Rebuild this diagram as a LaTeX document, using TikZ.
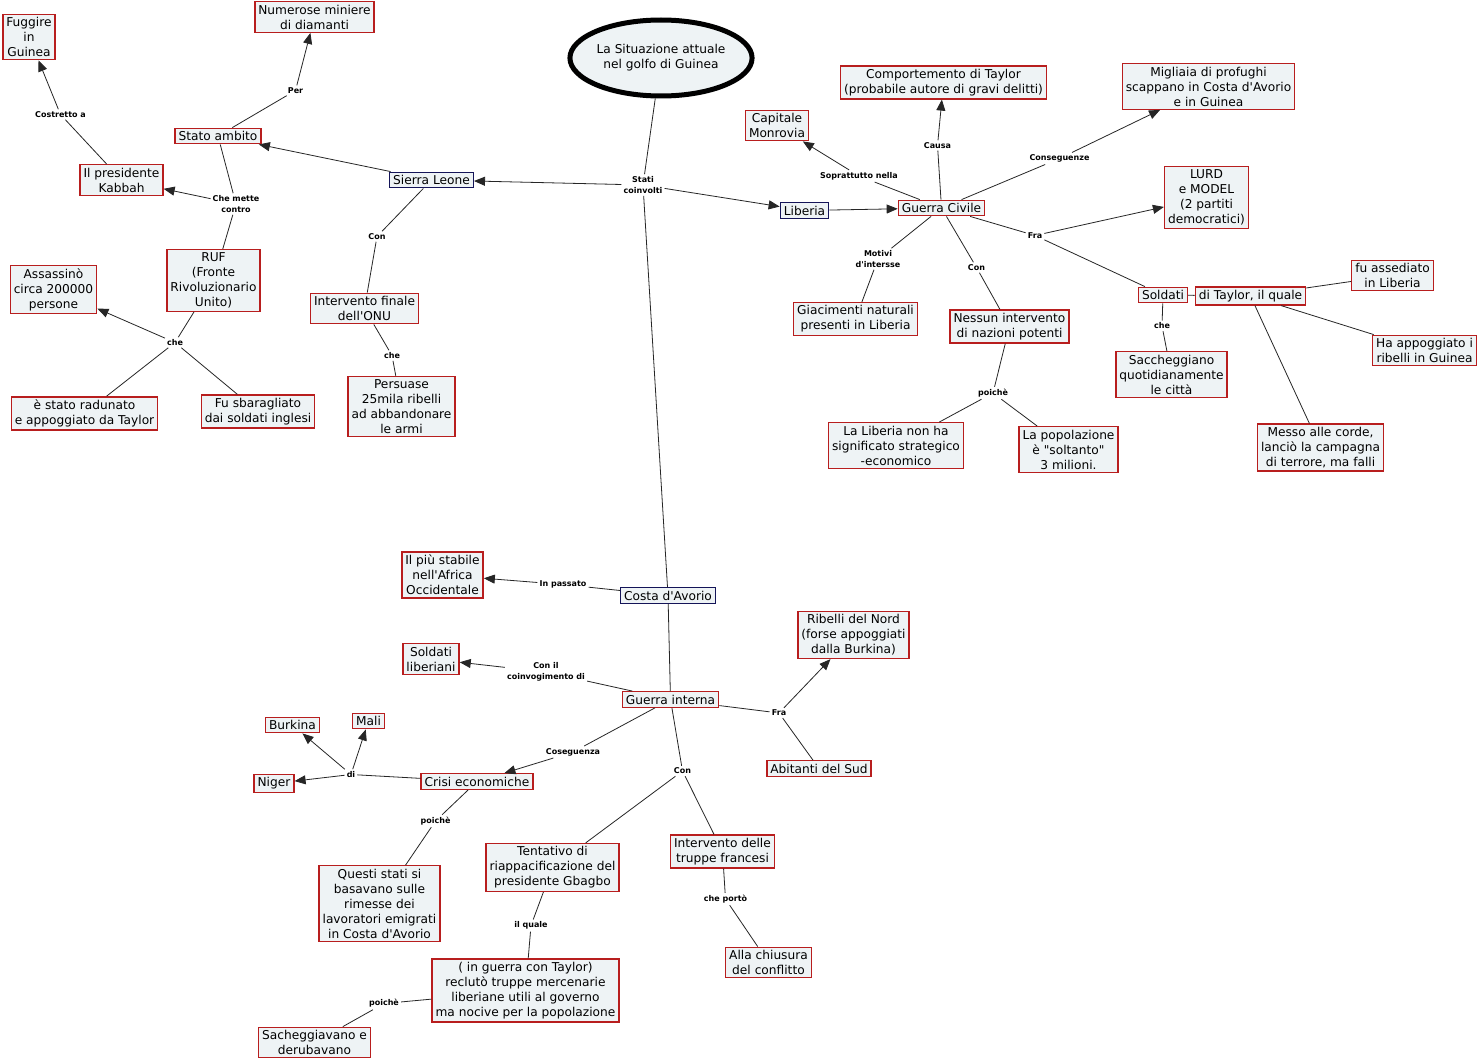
\documentclass[tikz,border=0pt]{standalone}
\usepackage{fontspec}
\setmainfont{DejaVu Sans}[Ligatures=TeXOff]
\usetikzlibrary{arrows.meta,shapes.geometric}
\definecolor{boxfill}{HTML}{EEF3F5}
\definecolor{redb}{HTML}{B81E1E}
\definecolor{navyb}{HTML}{141458}
\begin{document}
\begin{tikzpicture}[x=1pt,y=-1pt,
 cbox/.style={draw=redb,fill=boxfill,line width=1.4pt,align=center,font=\fontsize{12.2}{15}\selectfont,inner xsep=3.5pt,inner ysep=3pt},
 nbox/.style={cbox,draw=navyb},
 lbl/.style={font=\fontsize{8}{11}\selectfont\bfseries,align=center,inner sep=2pt},
 ln/.style={draw=black!85,line width=0.8pt},
 arr/.style={ln,-{Triangle[length=11pt,width=9pt]}}]
\fill[white] (0,0) rectangle (1482,1062);
\useasboundingbox (0,0) rectangle (1482,1062);

% central concept
\node[ellipse,draw=black,fill=boxfill,line width=5pt,minimum width=161pt,minimum height=76pt,inner sep=0pt,align=center,font=\fontsize{12.2}{15}\selectfont] (main) at (661,58) {La Situazione attuale\\nel golfo di Guinea};

% concepts
\node[cbox] (fug) at (29,37) {Fuggire\\in\\Guinea};
\node[cbox] (min) at (314.5,17) {Numerose miniere\\di diamanti};
\node[cbox] (stato) at (218,136) {Stato ambito};
\node[cbox] (kab) at (121.5,180) {Il presidente\\Kabbah};
\node[nbox] (sierra) at (431.5,180) {Sierra Leone};
\node[cbox] (ruf) at (213.5,280.5) {RUF\\(Fronte\\Rivoluzionario\\Unito)};
\node[cbox] (onu) at (364.5,308.5) {Intervento finale\\dell'ONU};
\node[cbox] (ass) at (53.5,289.5) {Assassinò\\circa 200000\\persone};
\node[cbox] (rad) at (84.5,413.5) {è stato radunato\\e appoggiato da Taylor};
\node[cbox] (sba) at (258,411.5) {Fu sbaragliato\\dai soldati inglesi};
\node[cbox] (pers) at (401.5,406.5) {Persuase\\25mila ribelli\\ad abbandonare\\le armi};
\node[nbox] (lib) at (804.5,210.5) {Liberia};
\node[cbox] (gc) at (941.5,208) {Guerra Civile};
\node[cbox] (cap) at (777,125.5) {Capitale\\Monrovia};
\node[cbox] (comp) at (943.5,82.5) {Comportemento di Taylor\\(probabile autore di gravi delitti)};
\node[cbox] (mig) at (1208.5,86.5) {Migliaia di profughi\\scappano in Costa d'Avorio\\e in Guinea};
\node[cbox] (lurd) at (1206.5,197.5) {LURD\\e MODEL\\(2 partiti\\democratici)};
\node[cbox] (sold) at (1163,295) {Soldati};
\node[cbox] (tay) at (1250.5,296) {di Taylor, il quale};
\node[cbox] (assed) at (1392.5,275.5) {fu assediato\\in Liberia};
\node[cbox] (appog) at (1424.5,350.5) {Ha appoggiato i\\ribelli in Guinea};
\node[cbox] (messo) at (1320.5,447.5) {Messo alle corde,\\lanciò la campagna\\di terrore, ma falli};
\node[cbox] (sacc) at (1171.5,374.5) {Saccheggiano\\quotidianamente\\le città};
\node[cbox] (giac) at (855.5,319) {Giacimenti naturali\\presenti in Liberia};
\node[cbox] (ness) at (1009.5,326.5) {Nessun intervento\\di nazioni potenti};
\node[cbox] (nonha) at (896,445.5) {La Liberia non ha\\significato strategico\\-economico};
\node[cbox] (pop) at (1068.5,449.5) {La popolazione\\è "soltanto"\\3 milioni.};
\node[nbox] (costa) at (668,595.5) {Costa d'Avorio};
\node[cbox] (stab) at (442.5,575) {Il più stabile\\nell'Africa\\Occidentale};
\node[cbox] (soldlib) at (431,659) {Soldati\\liberiani};
\node[cbox] (gi) at (670.5,699.5) {Guerra interna};
\node[cbox] (rib) at (853.5,635) {Ribelli del Nord\\(forse appoggiati\\dalla Burkina)};
\node[cbox] (abit) at (819,768.5) {Abitanti del Sud};
\node[cbox] (crisi) at (477,781.5) {Crisi economiche};
\node[cbox] (burk) at (292.5,725) {Burkina};
\node[cbox] (mali) at (368.5,721) {Mali};
\node[cbox] (niger) at (274,783.5) {Niger};
\node[cbox] (questi) at (379.5,903.5) {Questi stati si\\basavano sulle\\rimesse dei\\lavoratori emigrati\\in Costa d'Avorio};
\node[cbox] (tent) at (552.5,867.5) {Tentativo di\\riappacificazione del\\presidente Gbagbo};
\node[cbox] (fran) at (722.5,851.5) {Intervento delle\\truppe francesi};
\node[cbox] (chius) at (768.5,962.5) {Alla chiusura\\del conflitto};
\node[cbox] (recl) at (525.5,990.5) {( in guerra con Taylor)\\reclutò truppe mercenarie\\liberiane utili al governo\\ma nocive per la popolazione};
\node[cbox] (sacheg) at (314.5,1042.5) {Sacheggiavano e\\derubavano};

% linking phrases
\node[lbl] (lcostr) at (60.5,114.5) {Costretto a};
\node[lbl] (lper) at (295.5,90.5) {Per};
\node[lbl] (lche1) at (236,204) {Che mette\\contro};
\node[lbl] (lcon1) at (377,236.5) {Con};
\node[lbl] (lche2) at (392,355.5) {che};
\node[lbl] (lche3) at (175,342.5) {che};
\node[lbl] (lstati) at (643,185) {Stati\\coinvolti};
\node[lbl] (lsopr) at (859,176) {Soprattutto nella};
\node[lbl] (lcausa) at (937.5,145.5) {Causa};
\node[lbl] (lmot) at (878,259) {Motivi\\d'intersse};
\node[lbl] (lcon2) at (976.5,267.5) {Con};
\node[lbl] (lcons) at (1059.5,158.5) {Conseguenze};
\node[lbl] (lfra1) at (1035,235.5) {Fra};
\node[lbl] (lche4) at (1162,326) {che};
\node[lbl] (lpoi1) at (993,393) {poichè};
\node[lbl] (lpass) at (563,584.5) {In passato};
\node[lbl] (lcoinv) at (546,672) {Con il\\coinvogimento di};
\node[lbl] (lfra2) at (779,713) {Fra};
\node[lbl] (lcoseg) at (573,752) {Coseguenza};
\node[lbl] (lcon3) at (682.5,771) {Con};
\node[lbl] (ldi) at (351,774.5) {di};
\node[lbl] (lpoi2) at (435.5,821) {poichè};
\node[lbl] (lqual) at (531,925.5) {il quale};
\node[lbl] (lpoi3) at (384,1003.5) {poichè};
\node[lbl] (lport) at (725.5,899) {che portò};

% connectors
\draw[ln] (kab) -- (lcostr); \draw[arr] (lcostr) -- (fug);
\draw[ln] (stato) -- (lper); \draw[arr] (lper) -- (min);
\draw[ln] (stato) -- (lche1); \draw[arr] (lche1) -- (kab); \draw[ln] (lche1) -- (ruf);
\draw[arr] (sierra) -- (stato);
\draw[ln] (sierra) -- (lcon1); \draw[ln] (lcon1) -- (onu);
\draw[ln] (onu) -- (lche2); \draw[ln] (lche2) -- (pers);
\draw[ln] (ruf) -- (lche3); \draw[arr] (lche3) -- (ass); \draw[ln] (lche3) -- (rad); \draw[ln] (lche3) -- (sba);
\draw[ln] (main) -- (lstati); \draw[arr] (lstati) -- (sierra); \draw[arr] (lstati) -- (lib); \draw[ln] (lstati) -- (costa);
\draw[arr] (lib) -- (gc);
\draw[ln] (gc) -- (lsopr); \draw[arr] (lsopr) -- (cap);
\draw[ln] (gc) -- (lcausa); \draw[arr] (lcausa) -- (comp);
\draw[ln] (gc) -- (lcons); \draw[arr] (lcons) -- (mig);
\draw[ln] (gc) -- (lfra1); \draw[arr] (lfra1) -- (lurd); \draw[ln] (lfra1) -- (sold);
\draw[ln] (gc) -- (lmot); \draw[ln] (lmot) -- (giac);
\draw[ln] (gc) -- (lcon2); \draw[ln] (lcon2) -- (ness);
\draw[ln] (ness) -- (lpoi1); \draw[ln] (lpoi1) -- (nonha); \draw[ln] (lpoi1) -- (pop);
\draw[ln] (sold) -- (lche4); \draw[ln] (lche4) -- (sacc);
\draw[ln] (sold) -- (tay);
\draw[ln] (tay) -- (assed); \draw[ln] (tay) -- (appog); \draw[ln] (tay) -- (messo);
\draw[ln] (costa) -- (lpass); \draw[arr] (lpass) -- (stab);
\draw[ln] (costa) -- (gi);
\draw[ln] (gi) -- (lcoinv); \draw[arr] (lcoinv) -- (soldlib);
\draw[ln] (gi) -- (lfra2); \draw[arr] (lfra2) -- (rib); \draw[ln] (lfra2) -- (abit);
\draw[ln] (gi) -- (lcoseg); \draw[arr] (lcoseg) -- (crisi);
\draw[ln] (gi) -- (lcon3); \draw[ln] (lcon3) -- (tent); \draw[ln] (lcon3) -- (fran);
\draw[ln] (crisi) -- (ldi); \draw[arr] (ldi) -- (niger); \draw[arr] (ldi) -- (burk); \draw[arr] (ldi) -- (mali);
\draw[ln] (crisi) -- (lpoi2); \draw[ln] (lpoi2) -- (questi);
\draw[ln] (fran) -- (lport); \draw[ln] (lport) -- (chius);
\draw[ln] (tent) -- (lqual); \draw[ln] (lqual) -- (recl);
\draw[ln] (recl) -- (lpoi3); \draw[ln] (lpoi3) -- (sacheg);
\end{tikzpicture}
\end{document}
